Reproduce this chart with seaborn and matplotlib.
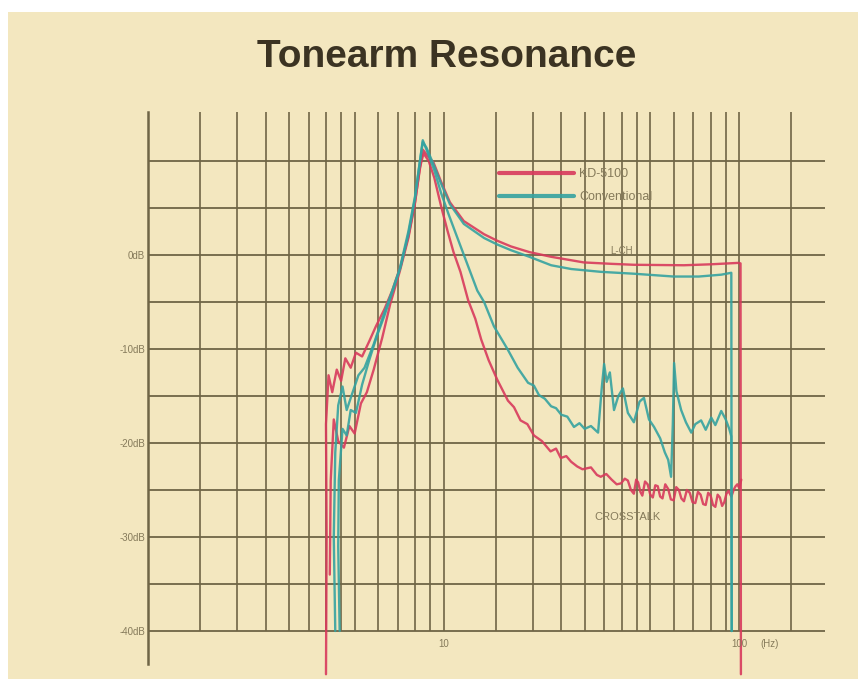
import numpy as np
import pandas as pd
import matplotlib.pyplot as plt
import seaborn as sns
from matplotlib.patches import Rectangle
from matplotlib.ticker import NullLocator

# --- data (Hz, dB) ---
kd_main_f = [4.0, 4.02, 4.0, 4.08, 4.2, 4.35, 4.5, 4.65, 4.85, 5.05, 5.3, 5.6, 5.9, 6.3, 6.7,
             7.15, 7.6, 8.0, 8.3, 8.5, 8.8, 9.25, 9.8, 10.5, 11.7, 13.7, 15.2, 16.9, 19.5,
             23.1, 29.8, 37.0, 44.0, 65.0, 80.0, 99.0, 101.0, 101.3]
kd_main_db = [-44.6, -30.0, -18.0, -12.8, -14.6, -12.2, -13.4, -11.0, -12.0, -10.4, -10.8, -9.2,
              -7.6, -5.8, -3.8, -1.2, 2.0, 5.6, 9.0, 11.2, 10.6, 9.8, 7.8, 5.6, 3.6, 2.2, 1.5,
              0.9, 0.3, -0.2, -0.8, -0.95, -1.05, -1.1, -1.0, -0.85, -0.9, -44.6]

conv_main_f = [4.45, 4.4, 4.42, 4.55, 4.7, 4.85, 5.05, 5.3, 5.6, 5.95, 6.3, 6.7, 7.15, 7.6, 8.0,
               8.3, 8.5, 8.75, 9.25, 9.8, 10.5, 11.7, 13.7, 15.2, 16.9, 19.5, 23.1, 27.0, 34.0,
               44.0, 60.0, 73.0, 87.0, 94.0, 94.3]
conv_main_db = [-40.0, -31.0, -24.0, -18.5, -19.2, -16.5, -16.8, -13.8, -11.2, -8.6, -6.5, -4.0,
                -1.3, 2.2, 6.0, 9.8, 12.0, 11.4, 9.6, 7.6, 5.4, 3.3, 1.8, 1.1, 0.5, -0.2, -1.1,
                -1.5, -1.8, -2.0, -2.3, -2.3, -2.1, -1.9, -40.0]

kd_xt_f = [4.12, 4.15, 4.25, 4.4, 4.6, 4.8, 5.0, 5.25, 5.5, 5.8, 6.2, 6.6, 7.1, 7.6, 8.0, 8.3,
           8.55, 8.9, 9.3, 9.8, 10.3, 10.8, 11.4, 12.1, 12.8, 13.4, 14.2, 15.2, 16.5, 17.3, 18.2,
           19.2, 20.2, 21.5, 23.0, 24.0, 24.9, 26.0, 27.0, 28.3, 29.5, 31.5, 33.0, 34.0, 35.5,
           37.0, 38.5, 39.8, 41.0, 42.0, 43.0, 44.0, 44.8, 45.5, 46.3, 47.0, 48.0, 49.0, 50.0,
           51.0, 52.0, 53.0, 54.0, 55.0, 56.2, 57.5, 58.7, 60.0, 61.2, 62.5, 63.7, 65.0, 66.5,
           68.0, 69.5, 71.0, 72.5, 74.0, 75.5, 77.0, 78.5, 80.0, 81.5, 83.0, 84.5, 86.0, 87.5,
           89.0, 90.5, 92.0, 94.0, 96.0, 97.2, 98.5, 100.0, 101.6]
kd_xt_db = [-34.0, -24.0, -17.5, -19.8, -20.5, -18.2, -19.0, -15.8, -14.6, -12.2, -8.8, -5.2,
            -1.8, 1.8, 5.5, 9.2, 10.8, 10.0, 8.2, 5.2, 2.6, 0.3, -1.8, -4.8, -6.8, -9.0, -11.2,
            -13.3, -15.5, -16.2, -17.6, -18.0, -19.2, -19.8, -20.9, -20.6, -21.6, -21.4, -22.0,
            -22.5, -22.8, -22.6, -23.4, -23.6, -23.3, -23.9, -24.4, -24.3, -23.8, -24.0, -25.0,
            -25.4, -23.9, -24.2, -25.2, -25.6, -24.1, -24.4, -25.5, -25.8, -24.5, -24.6, -25.7,
            -25.9, -24.4, -24.9, -26.0, -26.1, -24.7, -25.0, -25.9, -26.2, -25.0, -25.3, -26.3,
            -26.4, -25.2, -25.5, -26.5, -26.6, -25.3, -25.6, -26.6, -26.8, -25.5, -25.8, -26.7,
            -26.3, -25.4, -25.1, -25.7, -24.9, -24.6, -24.4, -24.8, -23.9]

conv_xt_f = [4.3, 4.25, 4.3, 4.4, 4.55, 4.7, 4.9, 5.15, 5.4, 5.8, 6.2, 6.6, 7.1, 7.6, 8.0, 8.3,
             8.5, 8.8, 9.3, 9.8, 10.4, 11.2, 12.1, 13.0, 13.7, 14.8, 16.5, 17.8, 19.3, 20.2,
             21.0, 22.0, 23.1, 24.0, 25.0, 26.2, 27.6, 28.8, 30.0, 31.5, 33.3, 34.3, 34.9, 35.6,
             36.5, 37.7, 39.0, 40.4, 42.0, 44.0, 46.0, 47.6, 49.5, 51.5, 54.0, 56.0, 57.5, 58.8,
             59.6, 60.2, 61.3, 63.6, 66.0, 68.8, 71.0, 74.3, 77.0, 80.4, 83.0, 86.9, 90.0, 92.5,
             94.0, 94.3]
conv_xt_db = [-40.0, -30.0, -21.0, -16.0, -14.0, -16.5, -14.8, -12.8, -12.0, -9.5, -6.8, -4.4,
              -1.5, 2.5, 6.2, 9.8, 12.2, 11.0, 9.0, 6.6, 4.3, 1.6, -1.2, -3.8, -5.0, -7.6, -10.1,
              -12.0, -13.6, -13.9, -14.9, -15.3, -16.1, -16.3, -17.0, -17.2, -18.3, -17.9, -18.5,
              -18.2, -18.9, -14.0, -11.6, -13.5, -12.5, -16.5, -15.0, -14.2, -16.8, -17.8, -15.6,
              -15.2, -17.5, -18.3, -19.5, -21.0, -21.8, -23.6, -18.0, -11.5, -14.5, -16.5, -17.8,
              -18.9, -18.0, -17.6, -18.6, -17.3, -18.1, -16.6, -17.5, -18.5, -19.3, -40.0]

grid_freqs = [1, 1.5, 2, 2.5, 3, 3.5, 4, 4.5, 5, 6, 7, 8, 9, 10, 15, 20, 25, 30, 35, 40, 45,
              50, 60, 70, 80, 90, 100, 150]
db_levels = [-40, -35, -30, -25, -20, -15, -10, -5, 0, 5, 10]
db_ticks = [0, -10, -20, -30, -40]
db_labels = ["0dB", "-10dB", "-20dB", "-30dB", "-40dB"]

traces = [
    ("KD-5100", "kd_main", kd_main_f, kd_main_db),
    ("Conventional", "conv_main", conv_main_f, conv_main_db),
    ("KD-5100", "kd_xt", kd_xt_f, kd_xt_db),
    ("Conventional", "conv_xt", conv_xt_f, conv_xt_db),
]
df = pd.concat([pd.DataFrame({"freq": f, "db": d, "model": m, "trace": t})
                for m, t, f, d in traces], ignore_index=True)

cream = "#f3e7bf"
gridc = "#6f6546"
textc = "#857a5a"

sns.set_style("white")
plt.rcParams["font.family"] = ["Liberation Sans", "DejaVu Sans"]

fig = plt.figure(figsize=(8.58, 6.79), dpi=100, facecolor="white")
fig.add_artist(Rectangle((8 / 858, 0), 1, 1 - 12 / 679, transform=fig.transFigure,
                         facecolor=cream, edgecolor="none", zorder=-10))
ax = fig.add_axes([148 / 858, 1 / 679, (825 - 148) / 858, (678 - 112) / 679])
ax.set_facecolor("none")
ax.set_xscale("log")
ax.set_xlim(1, 195)
ax.set_ylim(-45, 15.2)

ax.vlines(grid_freqs, -40, 15.2, color=gridc, lw=1.2, zorder=1)
ax.hlines(db_levels, 1, 195, color=gridc, lw=1.3, zorder=1)

sns.lineplot(data=df, x="freq", y="db", hue="model", units="trace", estimator=None,
             sort=False, hue_order=["KD-5100", "Conventional"],
             palette={"KD-5100": "#d83a5c", "Conventional": "#35a3a0"},
             lw=1.7, alpha=0.9, ax=ax, zorder=3)

for s in ["top", "right", "bottom"]:
    ax.spines[s].set_visible(False)
ax.spines["left"].set_bounds(-43.5, 15.2)
ax.spines["left"].set_color(gridc)
ax.spines["left"].set_linewidth(1.8)

ax.set_xticks([])
ax.xaxis.set_minor_locator(NullLocator())
ax.set_yticks(db_ticks, db_labels)
ax.tick_params(axis="y", length=0, pad=2, labelsize=7, labelcolor=textc)
ax.set_xlabel("")
ax.set_ylabel("")

ax.text(10, -41.4, "10", ha="center", va="center", fontsize=7, color=textc)
ax.text(100, -41.4, "100", ha="center", va="center", fontsize=7, color=textc)
ax.text(118, -41.4, "(Hz)", ha="left", va="center", fontsize=7, color=textc)
ax.text(40, 0.4, "L-CH", ha="center", va="center", fontsize=7, color=textc)
ax.text(42, -27.9, "CROSSTALK", ha="center", va="center", fontsize=8, color=textc)

handles, labels = ax.get_legend_handles_labels()
for h in handles:
    h.set_linewidth(3)
ax.legend(handles, labels, loc="upper left", bbox_to_anchor=(488 / 858, 1 - 157 / 679),
          bbox_transform=fig.transFigure, frameon=False, handlelength=6, fontsize=9,
          labelcolor=textc, labelspacing=0.9, handletextpad=0.4)

fig.text(447 / 858, 1 - 57 / 679, "Tonearm Resonance", fontsize=28, fontweight="bold",
         color="#3b3322", ha="center", va="center")

fig.savefig("out.png", dpi=100)
